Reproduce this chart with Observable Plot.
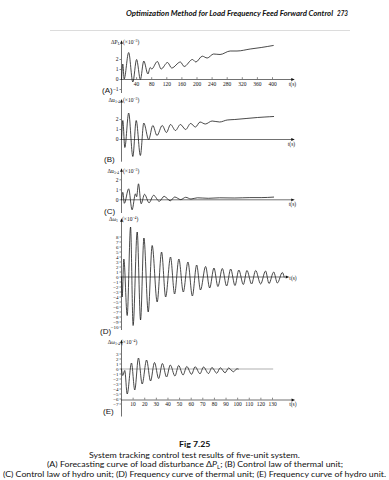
<!DOCTYPE html>
<html><head><meta charset="utf-8">
<script src="https://cdn.jsdelivr.net/npm/d3@7"></script>
<script src="https://cdn.jsdelivr.net/npm/@observablehq/plot@0.6"></script>
<style>
html,body{margin:0;padding:0;background:#fff;}
#page{position:relative;width:389px;height:480px;overflow:hidden;background:#fff;color:#111;}
.abs{position:absolute;white-space:nowrap;}
.abs sub,.abs sup{font-size:70%;line-height:0;}
.abs sub{vertical-align:-0.3em;}
.abs sup{vertical-align:0.45em;}
.pw{position:absolute;left:0;}
</style></head><body><div id="page"></div>
<script>
// ---- data ----
// (A) load disturbance forecast, t in s, value x10^-3
const tA = [0,3.5,7,19,30,40,50,59,70,76,80,95,105,122,133,156,166,188,197,214,227,244,261,288,306,341,370,402];
const vA = [0,1.55,0.05,2.7,-0.25,2.0,0.0,1.85,0.55,1.2,1.05,1.8,1.05,1.7,1.15,1.75,1.3,2.0,1.75,2.33,2.15,2.55,2.5,2.85,2.85,3.05,3.2,3.4];
// (B) control law of thermal unit
const tB = [0,3.5,8.8,19,30,39,50,59,72,83,94,108,119,130,143,156,170,183,196,208,222,240,260,280,300,330,360,380,403];
const vB = [0,1.9,-0.8,2.65,-1.7,1.9,-1.6,1.65,0.0,1.4,0.4,1.4,0.7,1.5,0.9,1.5,1.0,1.6,1.25,1.75,1.55,1.85,1.75,1.95,2.0,2.1,2.2,2.25,2.3];
// (C) control law of hydro unit
const tC = [0,3.5,7.5,19,28,37,40,45,52,61,73,85,100,113,129,141,157,170,184,201,230,260,300,340,370,403];
const vC = [0,0.75,-0.35,1.1,-1.0,0.6,0.3,1.6,-0.4,0.55,-0.3,0.45,-0.15,0.35,-0.1,0.28,0.02,0.25,0.08,0.2,0.15,0.2,0.18,0.22,0.22,0.27];
// (D) frequency of thermal unit, x10^-4
const tD = [0,0.6,2.0,4.9,7.8,10,13.5,16.4,19.3,23,26.4,30.7,34.5,38,42.2,45.7,49.4,53.2,57.2,61,64.7,68,72.4,75.9,79.6,83,86.8,90.5,94,97.7,101,104.9,108,112,115.5,119.8,124,127,131,134.2,138.5,140];
const vD = [0,-4.0,3.6,-7.7,10,-9.7,9,-8.6,7.8,-7.0,6.3,-5.0,5.0,-4.0,4.0,-3.4,3.6,-3.0,3.0,-3.8,2.4,-2.6,2.1,-2.2,1.8,-1.9,1.7,-1.8,1.6,-1.7,1.4,-1.5,1.3,-1.4,1.3,-1.4,1.2,-1.3,1.0,-1.2,0.9,0];
// (E) frequency of hydro unit, x10^-4
const tE = [0,1.1,2.8,4.9,8.6,11.4,14.6,17.8,21.6,25,28.4,32,35.2,38.8,42,46,49.2,53,56.2,60.3,63.4,67.6,70.6,74.9,77.9,82,85,89.2,92.2,96.4,99.4,100.5];
const vE = [0,-1.3,-0.3,-5.0,1.2,-4.2,2.2,-3.0,1.8,-2.4,1.3,-1.9,1.1,-1.6,0.8,-1.4,0.7,-1.2,0.5,-1.05,0.45,-0.95,0.4,-0.9,0.3,-0.85,0.25,-0.75,0.2,-0.55,0.05,0];

// tick labels
const xTicksA = [40,80,120,160,200,240,280,320,360,400];
const xTicksE = [10,20,30,40,50,60,70,80,90,100,110,120,130];
const yTicksA = [-1,0,1,2];
const yTicksB = [0,1,2];
const yTicksC = [0,1,2];
const yTicksD = [-10,-9,-8,-7,-6,-5,-4,-3,-2,-1,0,1,2,3,4,5,6,7,8];
const yTicksE = [-7,-6,-5,-4,-3,-2,-1,0,1,2,3];

// ---- layout ----
const page = document.getElementById("page");
const SERIF = "'Liberation Serif', 'DejaVu Serif', serif";
const SANS = "'Liberation Sans', Arial, sans-serif";
const CAP = "Lato, 'Open Sans', sans-serif";

const arrowRight = {draw(ctx, size){ const r = Math.sqrt(size)/2; ctx.moveTo(r*1.6,0); ctx.lineTo(-r*0.9,-r*1.0); ctx.lineTo(-r*0.9,r*1.0); ctx.closePath(); }};
const arrowUp = {draw(ctx, size){ const r = Math.sqrt(size)/2; ctx.moveTo(0,-r*1.6); ctx.lineTo(-r*1.0,r*0.9); ctx.lineTo(r*1.0,r*0.9); ctx.closePath(); }};

function panel(p) {
  const yDomain = [-(p.top + p.height - p.y0) / p.ppu, (p.y0 - p.top) / p.ppu];
  const data = p.t.map((t, i) => ({t, v: p.v[i]}));
  const marks = [];
  if (p.zeroLine) marks.push(Plot.ruleY([0], {x1: 0, x2: p.zeroLine, stroke: "#8c8c8c", strokeWidth: 0.7}));
  marks.push(Plot.ruleX([0], {y1: p.yAxis[0], y2: p.yAxis[1], stroke: "#111", strokeWidth: 0.6}));
  marks.push(Plot.dot([0], {x: 0, y: p.yAxis[1], symbol: arrowUp, r: 1.6, fill: "#111", stroke: "none"}));
  marks.push(Plot.ruleY([p.xAxisAt], {x1: 0, x2: p.xArrow, stroke: "#111", strokeWidth: 0.6}));
  marks.push(Plot.dot([0], {x: p.xArrow, y: p.xAxisAt, symbol: arrowRight, r: 1.6, fill: "#111", stroke: "none"}));
  marks.push(Plot.axisY(p.yTicks, {anchor: "left", tickSize: 1.5, tickPadding: 1.5, fontSize: p.tickFont || 5.5, fontFamily: SERIF, label: null, strokeWidth: 0.5}));
  if (p.xTicks) {
    marks.push(Plot.ruleX(p.xTicks, {x: d => d, y1: p.xAxisAt, y2: p.xAxisAt + 1.8 / p.ppu, stroke: "#111", strokeWidth: 0.5}));
    marks.push(Plot.text(p.xTicks, {x: d => d, y: p.xAxisAt, dy: 4.5, text: d => String(d), fontSize: 5.5, fontFamily: SERIF}));
  }
  marks.push(Plot.text(["t(s)"], {x: p.tLabel[0], y: p.xAxisAt, dx: p.tLabel[1], dy: p.tLabel[2], text: d => d, fontSize: 5.5, fontFamily: SERIF, textAnchor: "middle"}));
  marks.push(Plot.line(data, {x: "t", y: "v", curve: "monotone-x", stroke: "#1c1c1c", strokeWidth: 0.8}));
  const svg = Plot.plot({
    width: 389, height: p.height,
    marginLeft: 121, marginRight: 117, marginTop: 0, marginBottom: 0,
    x: {domain: [0, p.xMax], axis: null},
    y: {domain: yDomain},
    style: {background: "transparent", fontFamily: SERIF, fontSize: "5.5px", overflow: "visible"},
    marks
  });
  const wrap = document.createElement("div");
  wrap.className = "pw";
  wrap.style.top = p.top + "px";
  wrap.appendChild(svg);
  page.appendChild(wrap);
}

function addText(html, o) {
  const el = document.createElement("div");
  el.className = "abs";
  el.innerHTML = html;
  el.style.fontSize = o.size + "px";
  el.style.lineHeight = o.size + "px";
  el.style.fontFamily = o.family;
  if (o.weight) el.style.fontWeight = o.weight;
  if (o.italic) el.style.fontStyle = "italic";
  if (o.color) el.style.color = o.color;
  el.style.top = (o.cy - o.size / 2) + "px";
  if (o.right != null) el.style.right = (389 - o.right) + "px";
  else el.style.left = (o.left || 0) + "px";
  page.appendChild(el);
  const w = el.getBoundingClientRect().width;
  if (o.width) {
    el.style.transformOrigin = "left center";
    el.style.transform = "scaleX(" + (o.width / w) + ")";
  } else if (o.scale) {
    el.style.transformOrigin = "left center";
    el.style.transform = "scaleX(" + o.scale + ")";
  }
  if (o.center != null) {
    const sw = o.width || w * (o.scale || 1);
    el.style.left = (o.center - sw / 2) + "px";
  }
  return el;
}

// header
addText("Optimization Method for Load Frequency Feed Forward Control", {left: 126, cy: 13, size: 8, family: CAP, weight: 700, italic: true, width: 207});
addText("273", {left: 337, cy: 13, size: 8, family: CAP, weight: 700, italic: true, width: 11});
const rule = document.createElement("div");
rule.style.cssText = "position:absolute;left:50px;top:30px;width:300px;height:1px;background:#dcdcdc;";
page.appendChild(rule);

// panels
panel({t: tA, v: vA, top: 34, height: 64, y0: 79, ppu: 10, xMax: 400, xArrow: 453, yAxis: [-1.4, 3.7], xAxisAt: 0,
       yTicks: yTicksA, xTicks: xTicksA, tLabel: [453, 0, 4.5]});
panel({t: tB, v: vB, top: 98, height: 66, y0: 139, ppu: 10, xMax: 400, xArrow: 453, yAxis: [-2.27, 3.83], xAxisAt: 0,
       yTicks: yTicksB, tLabel: [453, -1, 4.5]});
panel({t: tC, v: vC, top: 166, height: 50, y0: 199.3, ppu: 10, xMax: 400, xArrow: 453, yAxis: [-1.37, 2.93], xAxisAt: 0,
       yTicks: yTicksC, tLabel: [453, 0, 4.5]});
panel({t: tD, v: vD, top: 216, height: 118, y0: 276.5, ppu: 5, xMax: 130, xArrow: 142.5, yAxis: [-10.7, 11.3], xAxisAt: 0,
       yTicks: yTicksD, tickFont: 5, tLabel: [142.5, 6, 1.5]});
panel({t: tE, v: vE, top: 336, height: 84, y0: 368.5, ppu: 5, xMax: 130, xArrow: 147.5, yAxis: [-9.6, 5.4], xAxisAt: -6.2,
       yTicks: yTicksE, tickFont: 5, xTicks: xTicksE, zeroLine: 131, tLabel: [147.5, 0, 4.5]});

// axis titles
const lab = {size: 5.5, family: SERIF};
addText("ΔP<sub>L</sub>", {...lab, right: 120, cy: 43});
addText("(×10<sup>−3</sup>)", {...lab, left: 123, cy: 43});
addText("Δu<sub>1-4</sub>", {...lab, right: 120, cy: 101});
addText("(×10<sup>−3</sup>)", {...lab, left: 123, cy: 101});
addText("Δu<sub>5-4</sub>", {...lab, right: 119, cy: 172});
addText("(×10<sup>−3</sup>)", {...lab, left: 123, cy: 172});
addText("Δω<sub>1</sub>", {...lab, right: 118, cy: 220});
addText("(×10<sup>−4</sup>)", {...lab, left: 122, cy: 220});
addText("Δω<sub>1-4</sub>", {...lab, right: 120, cy: 343});
addText("(×10<sup>−4</sup>)", {...lab, left: 121, cy: 343});

// panel letters
const pl = {size: 8, family: SANS};
addText("(A)", {...pl, left: 102, cy: 91});
addText("(B)", {...pl, left: 104, cy: 160});
addText("(C)", {...pl, left: 104, cy: 211.5});
addText("(D)", {...pl, left: 100, cy: 331.5});
addText("(E)", {...pl, left: 103, cy: 412});

// caption: one common scale, all lines centred
const capSize = 7.5;
const probe = addText("(C) Control law of hydro unit; (D) Frequency curve of thermal unit; (E) Frequency curve of hydro unit.", {center: 194.5, cy: 474.5, size: capSize, family: CAP, width: 383});
const capScale = 383 / (probe.getBoundingClientRect().width / 1);
const natural4 = probe.scrollWidth;
const s = 383 / natural4;
addText("Fig 7.25", {center: 194.5, cy: 445, size: capSize, family: CAP, weight: 700, scale: s});
addText("System tracking control test results of five-unit system.", {center: 194.5, cy: 455.5, size: capSize, family: CAP, scale: s});
addText("(A) Forecasting curve of load disturbance Δ<i>P</i><sub>L</sub>; (B) Control law of thermal unit;", {center: 194.5, cy: 465, size: capSize, family: CAP, scale: s});
</script></body></html>
